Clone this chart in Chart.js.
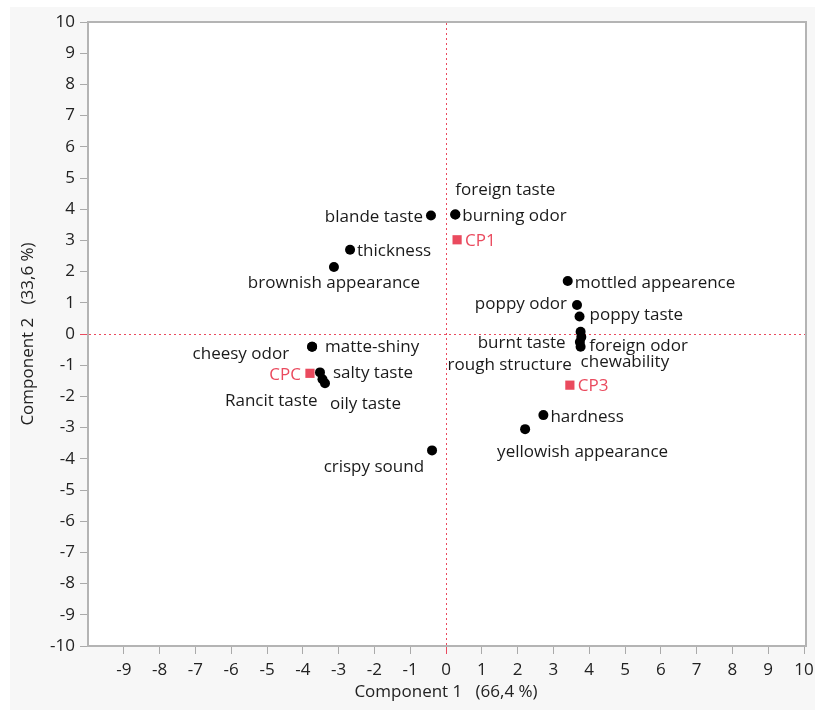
<!DOCTYPE html>
<html>
<head>
<meta charset="utf-8">
<script src="https://cdn.jsdelivr.net/npm/chart.js@4"></script>
<style>
  html, body { margin: 0; padding: 0; background: #ffffff; }
  #wrap { position: relative; width: 815px; height: 710px; }
  canvas { display: block; }
</style>
</head>
<body>
<div id="wrap"><canvas id="c" width="815" height="710"></canvas></div>
<script>
// ---- Data ----
const attributeNames = [
  "blande taste", "foreign taste", "burning odor", "thickness", "brownish appearance",
  "mottled appearence", "poppy odor", "poppy taste", "burnt taste", "foreign odor",
  "rough structure", "chewability", "hardness", "yellowish appearance", "crispy sound",
  "matte-shiny", "cheesy odor", "salty taste", "Rancit taste", "oily taste"
];
const attributeX = [
  -0.42, 0.26, 0.26, -2.68, -3.13,
  3.40, 3.66, 3.73, 3.76, 3.78,
  3.74, 3.76, 2.72, 2.21, -0.39,
  -3.74, -3.74, -3.52, -3.45, -3.38
];
const attributeY = [
  3.80, 3.83, 3.83, 2.70, 2.15,
  1.70, 0.93, 0.56, 0.07, -0.10,
  -0.26, -0.41, -2.60, -3.05, -3.73,
  -0.41, -0.41, -1.23, -1.45, -1.58
];
const productNames = ["CP1", "CP3", "CPC"];
const productX = [0.31, 3.46, -3.80];
const productY = [3.02, -1.64, -1.26];

const xTitle = "Component 1   (66,4 %)";
const yTitle = "Component 2   (33,6 %)";
const axisMin = -10;
const axisMax = 10;

// ---- Label placement (pixel offsets from the marker, text alignment) ----
const attributeLabelPlacement = [
  [-8, 1, "right"], [0, -25, "left"], [7, 1, "left"], [7, 0, "left"], [0, 15, "center"],
  [7, 1, "left"], [-10, -2, "right"], [10, -2, "left"], [-15, 10, "right"], [8, 8, "left"],
  [-8, 22, "right"], [0, 14, "left"], [7, 1, "left"], [-28, 22, "left"], [-8, 16, "right"],
  [13, -1, "left"], [-23, 6, "right"], [13, 0, "left"], [-5, 21, "right"], [5, 20, "left"]
];
const productLabelPlacement = [[8, 0, "left"], [8, 0, "left"], [-9, 1, "right"]];

const RED = "#ea4a5e";
const AXIS_GRAY = "#aaaaaa";
const FONT = "'Open Sans', 'DejaVu Sans', sans-serif";

const attrPoints = attributeX.map((x, i) => ({ x: x, y: attributeY[i] }));
const prodPoints = productX.map((x, i) => ({ x: x, y: productY[i] }));

const tickColor = (ctx) => {
  if (!ctx.tick) return AXIS_GRAY;
  if (ctx.tick.value === 0) return RED;
  return AXIS_GRAY;
};

const bgPlugin = {
  id: "bg",
  beforeDraw(chart) {
    const ctx = chart.ctx;
    ctx.save();
    ctx.fillStyle = "#ffffff";
    ctx.fillRect(0, 0, chart.width, chart.height);
    ctx.fillStyle = "#f7f7f7";
    ctx.fillRect(10, 7, chart.width - 10, chart.height - 7);
    const a = chart.chartArea;
    ctx.fillStyle = "#ffffff";
    ctx.fillRect(a.left, a.top, a.right - a.left + 2, a.bottom - a.top);
    ctx.restore();
  },
  beforeDatasetsDraw(chart) {
    const ctx = chart.ctx;
    const a = chart.chartArea;
    const xs = chart.scales.x, ys = chart.scales.y;
    ctx.save();
    // frame
    ctx.strokeStyle = "#b4b4b4";
    ctx.lineWidth = 2;
    ctx.strokeRect(a.left, a.top, a.right - a.left + 2, a.bottom - a.top);
    // reference lines at 0
    ctx.strokeStyle = RED;
    ctx.lineWidth = 1;
    ctx.setLineDash([2, 3]);
    const x0 = Math.round(xs.getPixelForValue(0)) + 0.5;
    const y0 = Math.round(ys.getPixelForValue(0)) + 0.5;
    ctx.beginPath();
    ctx.moveTo(x0, a.top + 1); ctx.lineTo(x0, a.bottom - 1);
    ctx.moveTo(a.left + 1, y0); ctx.lineTo(a.right + 1, y0);
    ctx.stroke();
    ctx.restore();
  }
};

const labelPlugin = {
  id: "pointLabels",
  afterDatasetsDraw(chart) {
    const ctx = chart.ctx;
    ctx.save();
    ctx.font = "17px " + FONT;
    ctx.textBaseline = "middle";
    const draw = (dsIndex, names, placement, color) => {
      const meta = chart.getDatasetMeta(dsIndex);
      meta.data.forEach((el, i) => {
        const p = placement[i];
        ctx.fillStyle = color;
        ctx.textAlign = p[2];
        ctx.fillText(names[i], el.x + p[0], el.y + p[1] + 1);
      });
    };
    draw(0, attributeNames, attributeLabelPlacement, "#1a1a1a");
    draw(1, productNames, productLabelPlacement, RED);
    ctx.restore();
  }
};

new Chart(document.getElementById("c"), {
  type: "scatter",
  data: {
    datasets: [
      {
        label: "Attributes",
        data: attrPoints,
        pointStyle: "circle",
        pointRadius: 5,
        backgroundColor: "#000000",
        borderColor: "#000000",
        borderWidth: 0
      },
      {
        label: "Products",
        data: prodPoints,
        pointStyle: "rect",
        pointRadius: 6.5,
        backgroundColor: RED,
        borderColor: RED,
        borderWidth: 0
      }
    ]
  },
  options: {
    responsive: false,
    animation: false,
    layout: { padding: { left: 0, top: 22, right: 11, bottom: 0 } },
    plugins: {
      legend: { display: false },
      tooltip: { enabled: false }
    },
    scales: {
      x: {
        type: "linear",
        min: axisMin,
        max: axisMax,
        afterFit(s) { s.height = 64; s.paddingLeft = 0; s.paddingRight = 0; },
        ticks: {
          stepSize: 1,
          autoSkip: false,
          maxRotation: 0,
          padding: 6,
          color: "#222222",
          font: { family: FONT, size: 17 },
          callback: (v) => (v === axisMin ? "" : String(v))
        },
        grid: {
          drawOnChartArea: false,
          drawTicks: true,
          tickLength: 8,
          color: (ctx) => (ctx.tick && ctx.tick.value === axisMin ? "rgba(0,0,0,0)" : tickColor(ctx))
        },
        border: { display: true, color: "#b4b4b4", width: 2 },
        title: {
          display: true,
          text: xTitle,
          color: "#222222",
          font: { family: FONT, size: 17 },
          padding: { top: 0, bottom: 8 }
        }
      },
      y: {
        type: "linear",
        min: axisMin,
        max: axisMax,
        afterFit(s) { s.width = 88; s.paddingTop = 0; s.paddingBottom = 0; },
        ticks: {
          stepSize: 1,
          autoSkip: false,
          padding: 5,
          color: "#222222",
          font: { family: FONT, size: 17 }
        },
        grid: {
          drawOnChartArea: false,
          drawTicks: true,
          tickLength: 8,
          color: tickColor
        },
        border: { display: true, color: "#b4b4b4", width: 2 },
        title: {
          display: true,
          text: yTitle,
          color: "#222222",
          font: { family: FONT, size: 17 },
          padding: { top: 18, bottom: 0 }
        }
      }
    }
  },
  plugins: [bgPlugin, labelPlugin]
});
</script>
</body>
</html>
